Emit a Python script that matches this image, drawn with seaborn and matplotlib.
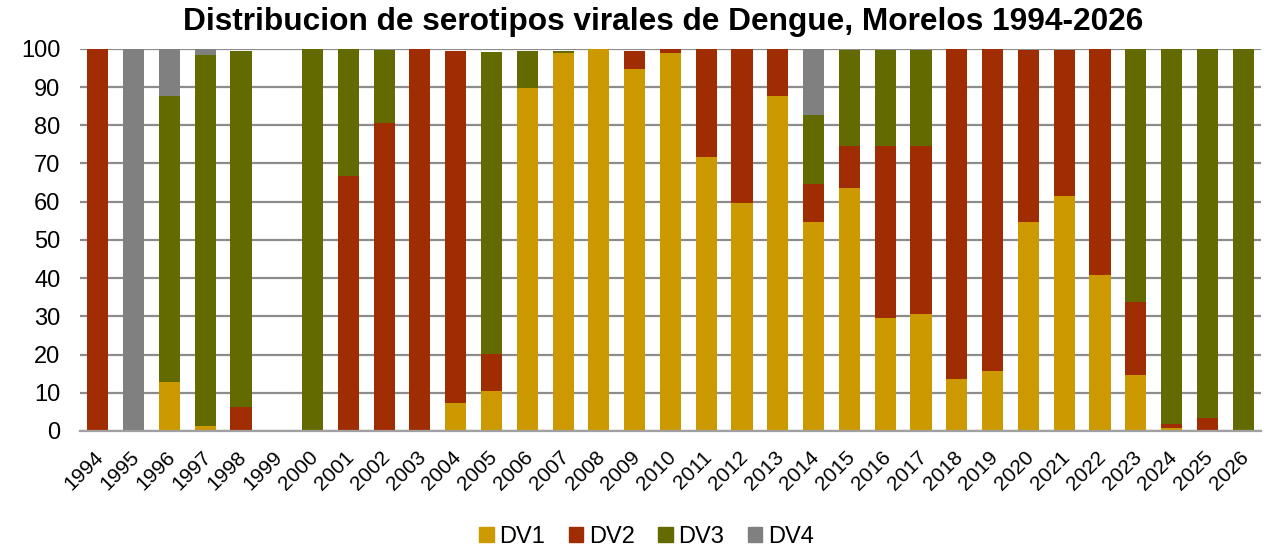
import numpy as np
import pandas as pd
import matplotlib
matplotlib.use("Agg")
import matplotlib.pyplot as plt
import matplotlib.transforms as mtransforms
import seaborn as sns
from matplotlib.patches import Patch

# Data (percent of positive samples per serotype)
years = [str(y) for y in range(1994, 2027)]
dv1 = [0, 0, 12.7, 1.4, 0, 0, 0, 0, 0, 0, 7.3, 10.5, 89.8, 99.0, 100, 94.8, 98.8,
       71.7, 59.7, 87.7, 54.7, 63.6, 29.6, 30.6, 13.6, 15.7, 54.7, 61.5, 40.8,
       14.7, 0.9, 0, 0]
dv2 = [100, 0, 0, 0, 6.3, 0, 0, 66.7, 80.6, 100, 92.2, 9.7, 0, 0, 0, 4.7, 1.2,
       28.3, 40.3, 12.3, 10.0, 11.0, 45.0, 44.0, 86.4, 84.3, 45.0, 38.2, 59.2,
       19.1, 0.9, 3.4, 0]
dv3 = [0, 0, 75.0, 97.0, 93.2, 0, 100, 33.3, 19.2, 0, 0, 79.0, 9.7, 0.5, 0, 0, 0,
       0, 0, 0, 18.0, 25.1, 25.1, 25.1, 0, 0, 0, 0, 0,
       66.2, 98.2, 96.6, 100]
dv4 = [0, 100, 12.3, 1.6, 0, 0, 0, 0, 0, 0, 0, 0, 0, 0, 0, 0, 0,
       0, 0, 0, 17.3, 0, 0, 0, 0, 0, 0, 0, 0,
       0, 0, 0, 0]

series = {"DV1": dv1, "DV2": dv2, "DV3": dv3, "DV4": dv4}
colors = {"DV1": "#CC9900", "DV2": "#A02D02", "DV3": "#636B00", "DV4": "#808080"}

sns.set_style("white")
plt.rcParams["font.family"] = ["Liberation Sans", "DejaVu Sans"]
plt.rcParams["text.color"] = "black"
plt.rcParams["xtick.color"] = "black"
plt.rcParams["ytick.color"] = "black"

fig = plt.figure(figsize=(12.68, 5.49), dpi=100)
ax = fig.add_axes([0.063, 0.215, 0.9315, 0.696])

bottom = np.zeros(len(years))
for name, vals in series.items():
    vals = np.array(vals, dtype=float)
    sns.barplot(x=years, y=vals, bottom=bottom, color=colors[name],
                width=0.59, ax=ax, linewidth=0, saturation=1)
    bottom += vals

ax.set_ylim(0, 100)
ax.set_xlim(-0.5, len(years) - 0.5)
ax.set_yticks(range(0, 101, 10))
ax.yaxis.grid(True, color="#8c8c8c", linewidth=1.6)
ax.set_axisbelow(True)
for s in ["top", "right", "left"]:
    ax.spines[s].set_visible(False)
ax.spines["bottom"].set_color("#a0a0a0")
ax.spines["bottom"].set_linewidth(1.6)

ax.tick_params(axis="y", labelsize=17, length=0, pad=14, labelcolor="black")
ax.tick_params(axis="x", labelsize=15, length=0, pad=12, labelcolor="black")
shift = mtransforms.ScaledTranslation(-4 / 100, 0, fig.dpi_scale_trans)
for lbl in ax.get_xticklabels():
    lbl.set_rotation(45)
    lbl.set_ha("right")
    lbl.set_rotation_mode("anchor")
    lbl.set_transform(lbl.get_transform() + shift)
ax.set_xlabel("")
ax.set_ylabel("")

fig.suptitle("Distribucion de serotipos virales de Dengue, Morelos 1994-2026",
             fontsize=22.8, fontweight="bold", x=0.523, y=0.987, va="top",
             color="black")

handles = [Patch(color=colors[n], label=n) for n in series]
leg = fig.legend(handles=handles, loc="lower center", ncol=4, frameon=False,
                 fontsize=17, bbox_to_anchor=(0.51, -0.036), handlelength=0.6,
                 handleheight=0.6, handletextpad=0.25, columnspacing=1.0)
for t in leg.get_texts():
    t.set_color("black")

fig.savefig("out.png", dpi=100)
